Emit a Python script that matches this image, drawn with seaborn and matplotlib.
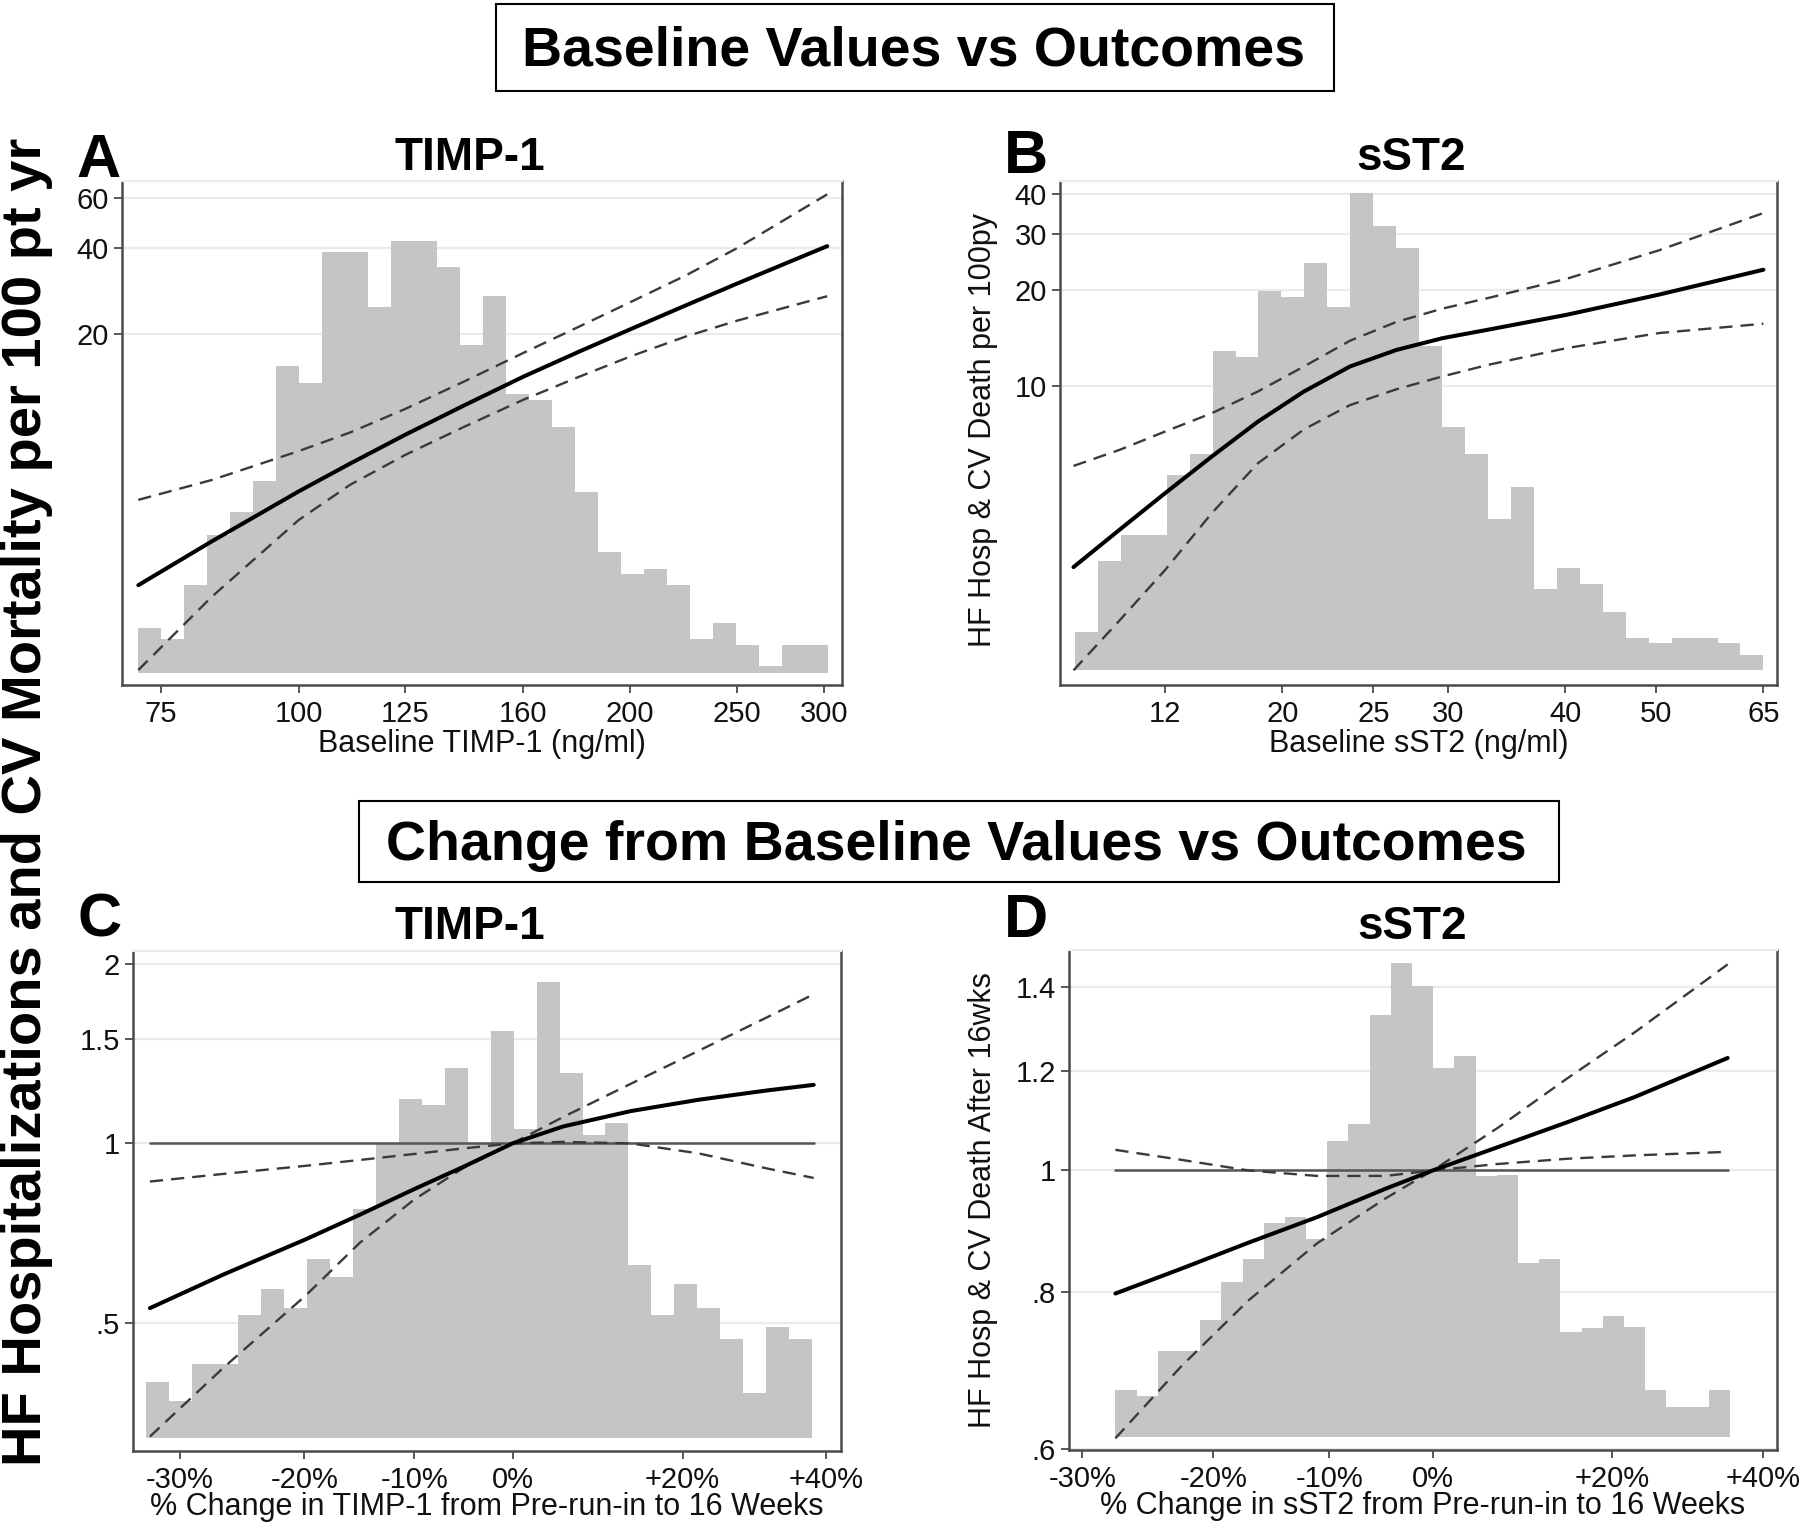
import numpy as np
import seaborn as sns
import matplotlib
matplotlib.use("Agg")
import matplotlib.pyplot as plt
from matplotlib.patches import Rectangle
from matplotlib.ticker import NullLocator, FixedLocator, FixedFormatter
from matplotlib.transforms import blended_transform_factory

# ---------------------------------------------------------------- data
# Panel A : baseline TIMP-1 (ng/ml) vs rate per 100 pt-yr
A_X = [71.5, 83.4, 100, 111.3, 125, 141.6, 160, 179.9, 200, 224.4, 250, 302]
A_FIT = [2.59, 3.70, 5.55, 6.95, 8.80, 11.2, 14.1, 17.3, 20.7, 25.1, 30.0, 40.7]
A_CI_UP = [5.18, 6.09, 7.70, 8.95, 10.85, 13.6, 17.1, 21.2, 25.8, 32.0, 40.0, 62.0]
A_CI_LO = [1.30, 2.36, 4.40, 5.85, 7.47, 9.41, 11.69, 14.1, 16.6, 19.5, 22.2, 27.1]
A_BIN_RANGE = (71.5, 302.6)
A_HIST = [10.8, 8.0, 21.0, 33.0, 38.5, 46.0, 73.7, 69.7, 101.2, 101.2,
          88.0, 103.8, 103.8, 97.5, 78.8, 90.6, 67.0, 65.5, 59.0, 43.3,
          29.0, 23.8, 25.0, 21.0, 8.0, 11.8, 6.5, 1.5, 6.5, 6.5]
A_XTICKS = [75, 100, 125, 160, 200, 250, 300]
A_XTICKLABELS = ["75", "100", "125", "160", "200", "250", "300"]
A_YTICKS = [20, 40, 60]
A_YTICKLABELS = ["20", "40", "60"]

# Panel B : baseline sST2 (ng/ml)
B_X = [11.99, 13.42, 15.0, 16.82, 18.84, 21.09, 23.61, 26.44, 29.6, 33.14, 40.16, 50.3, 65.0]
B_FIT = [2.73, 3.57, 4.64, 6.04, 7.77, 9.65, 11.55, 13.0, 14.15, 15.05, 16.75, 19.35, 23.15]
B_CI_UP = [5.65, 6.34, 7.23, 8.25, 9.65, 11.55, 13.9, 15.9, 17.5, 18.9, 21.7, 26.6, 34.8]
B_CI_LO = [1.30, 1.86, 2.67, 4.02, 5.76, 7.35, 8.75, 9.80, 10.75, 11.69, 13.18, 14.68, 15.70]
B_BIN_RANGE = (12.03, 65.0)
B_HIST = [9.2, 26.3, 32.5, 32.5, 46.8, 52.0, 76.8, 75.3, 91.2, 89.7,
          97.7, 87.3, 114.5, 106.8, 101.5, 78.0, 58.5, 52.0, 36.3, 44.0,
          19.5, 24.7, 20.8, 14.0, 7.7, 6.5, 7.7, 7.7, 6.5, 3.8]
B_XTICKS = [15, 20, 25, 30, 40, 50, 65]
B_XTICKLABELS = ["12", "20", "25", "30", "40", "50", "65"]
B_YTICKS = [10, 20, 30, 40]
B_YTICKLABELS = ["10", "20", "30", "40"]

# Panel C : % change in TIMP-1 vs relative risk
C_PCT = [-32.2, -26.6, -19.9, -15.1, -10.0, -5.1, 0, 5.6, 13.5, 22.1, 31.3, 38.1]
C_FIT = [0.529, 0.603, 0.690, 0.759, 0.838, 0.914, 1.0, 1.068, 1.133, 1.184, 1.227, 1.254]
C_CI_A = [0.322, 0.421, 0.555, 0.681, 0.805, 0.910, 1.0, 1.108, 1.259, 1.431, 1.627, 1.780]
C_CI_B = [0.863, 0.889, 0.917, 0.938, 0.960, 0.981, 1.0, 1.006, 1.0, 0.962, 0.908, 0.875]
C_BIN_RANGE_PCT = (-32.5, 37.9)
C_HIST = [13.3, 8.8, 17.5, 17.5, 29.0, 35.0, 30.5, 42.1, 37.8, 53.8,
          69.3, 79.8, 78.3, 87.0, 69.3, 95.8, 72.6, 107.3, 85.8, 71.3,
          74.0, 40.6, 29.0, 36.3, 30.6, 23.3, 10.6, 26.1, 23.3]
C_YTICKS = [0.5, 1, 1.5, 2]
C_YTICKLABELS = [".5", "1", "1.5", "2"]

# Panel D : % change in sST2 vs relative risk
D_PCT = [-27.6, -22.6, -17.1, -11.1, -4.7, 0, 6.9, 14.6, 22.8, 35.0]
D_FIT = [0.798, 0.835, 0.876, 0.918, 0.967, 1.0, 1.044, 1.092, 1.144, 1.229]
D_CI_A = [0.612, 0.698, 0.788, 0.875, 0.950, 1.0, 1.082, 1.183, 1.288, 1.459]
D_CI_B = [1.0385, 1.0197, 1.0, 0.990, 0.990, 1.0, 1.012, 1.0216, 1.028, 1.0347]
D_BIN_RANGE_PCT = (-27.6, 35.3)
D_HIST = [11.0, 9.7, 20.3, 20.3, 27.5, 36.5, 42.0, 50.3, 51.7, 46.5,
          69.5, 73.5, 99.3, 111.5, 106.0, 86.8, 89.7, 61.5, 61.7, 41.0,
          42.0, 24.7, 25.7, 28.5, 26.0, 11.0, 7.0, 7.0, 11.0]
D_YTICKS = [0.6, 0.8, 1, 1.2, 1.4]
D_YTICKLABELS = [".6", ".8", "1", "1.2", "1.4"]

PCT_TICKS = [-30, -20, -10, 0, 20, 40]
PCT_TICKLABELS = ["-30%", "-20%", "-10%", "0%", "+20%", "+40%"]

# ---------------------------------------------------------------- style
sns.set_theme(style="white")
plt.rcParams["font.family"] = ["Liberation Sans", "DejaVu Sans"]

HIST_C = "#c5c5c5"
GRID_C = "#ebebeb"
SPINE_C = "#4a4a4a"
DASH_C = "#3a3a3a"
TXT_C = "#111111"
DASH = (0, (5.6, 3.4))

W, H = 1800, 1528
fig = plt.figure(figsize=(W / 100, H / 100), dpi=100)
fig.patch.set_facecolor("white")


def fx(x):
    return x / W


def fy(y):
    return 1 - y / H


def rect(l, t, r, b):
    return [l / W, 1 - b / H, (r - l) / W, (b - t) / H]


def ratio(p):
    return 1 + np.asarray(p, dtype=float) / 100.0


def panel(box, x, fit, ci1, ci2, bin_range, nbins, heights, xlim, ylim, hylim,
          xt, xtl, yt, ytl, xlabel, xlabel_y, ylabel=None, ylabel_xy=None, ref=False):
    ax = fig.add_axes(box)
    ax.set_xscale("log")
    ax.set_yscale("log")
    axh = ax.twinx()
    ax.set_zorder(2)
    axh.set_zorder(1)
    ax.patch.set_visible(False)

    edges = np.geomspace(bin_range[0], bin_range[1], nbins + 1)
    centers = np.sqrt(edges[:-1] * edges[1:])
    sns.histplot(x=list(centers), weights=list(heights), bins=list(np.log10(edges)),
                 element="step", fill=True, color=HIST_C, alpha=1, linewidth=0, ax=axh)
    axh.set_ylim(hylim)
    axh.set_yticks([])
    axh.set_ylabel("")
    axh.set_xlabel("")
    for s in axh.spines.values():
        s.set_visible(False)

    # gridlines behind the histogram
    tr = blended_transform_factory(axh.transAxes, ax.transData)
    for v in yt:
        axh.plot([0, 1], [v, v], transform=tr, color=GRID_C, lw=1.6, zorder=0.5,
                 scalex=False, scaley=False)

    if ref:
        sns.lineplot(x=[x[0], x[-1]], y=[1, 1], ax=ax, color="#555555", linewidth=1.8,
                     estimator=None, sort=False)
    sns.lineplot(x=x, y=ci1, ax=ax, color=DASH_C, linewidth=1.7, linestyle=DASH,
                 estimator=None, sort=False)
    sns.lineplot(x=x, y=ci2, ax=ax, color=DASH_C, linewidth=1.7, linestyle=DASH,
                 estimator=None, sort=False)
    sns.lineplot(x=x, y=fit, ax=ax, color="black", linewidth=2.9,
                 estimator=None, sort=False)

    ax.set_xlim(xlim)
    ax.set_ylim(ylim)
    ax.xaxis.set_major_locator(FixedLocator(xt))
    ax.xaxis.set_major_formatter(FixedFormatter(xtl))
    ax.xaxis.set_minor_locator(NullLocator())
    ax.yaxis.set_major_locator(FixedLocator(yt))
    ax.yaxis.set_major_formatter(FixedFormatter(ytl))
    ax.yaxis.set_minor_locator(NullLocator())
    ax.tick_params(axis="both", which="major", direction="out", length=5.5, width=1.3,
                   color=SPINE_C, labelsize=21, labelcolor=TXT_C)
    ax.tick_params(axis="x", pad=5.5, bottom=True, top=False)
    ax.tick_params(axis="y", pad=4, left=True, right=False)
    for side in ["left", "bottom", "right"]:
        ax.spines[side].set_color(SPINE_C)
        ax.spines[side].set_linewidth(1.8)
        ax.spines[side].set_visible(True)
    ax.spines["top"].set_color(GRID_C)
    ax.spines["top"].set_linewidth(1.6)
    ax.spines["top"].set_visible(True)

    ax.set_xlabel(xlabel, fontsize=22, color=TXT_C)
    bpx = box[1] * H
    hpx = box[3] * H
    ax.xaxis.set_label_coords(0.5, ((H - xlabel_y) - bpx) / hpx)
    ax.xaxis.label.set_va("baseline")
    if ylabel:
        ax.set_ylabel(ylabel, fontsize=22, color=TXT_C)
        lpx = box[0] * W
        wpx = box[2] * W
        ax.yaxis.set_label_coords((ylabel_xy[0] - lpx) / wpx, ((H - ylabel_xy[1]) - bpx) / hpx)
        ax.yaxis.label.set_va("center")
        ax.yaxis.label.set_ha("center")
    else:
        ax.set_ylabel("")
    return ax


# Panel A
panel(rect(122, 181, 842, 685), A_X, A_FIT, A_CI_UP, A_CI_LO, A_BIN_RANGE, 30, A_HIST,
      (69.1, 311.5), (1.151, 69.1), (-3.0, 118.2),
      A_XTICKS, A_XTICKLABELS, A_YTICKS, A_YTICKLABELS,
      "Baseline TIMP-1 (ng/ml)", 752)

# Panel B
panel(rect(1060, 181, 1777, 685), B_X, B_FIT, B_CI_UP, B_CI_LO, B_BIN_RANGE, 30, B_HIST,
      (11.6, 67.2), (1.17, 43.8), (-3.5, 117.5),
      B_XTICKS, B_XTICKLABELS, B_YTICKS, B_YTICKLABELS,
      "Baseline sST2 (ng/ml)", 752,
      ylabel="HF Hosp & CV Death per 100py", ylabel_xy=(983, 430))

# Panel C
panel(rect(133, 951, 841, 1451), ratio(C_PCT), C_FIT, C_CI_A, C_CI_B,
      tuple(ratio(C_BIN_RANGE_PCT)), 29, C_HIST,
      (0.6658, 1.422), (0.3045, 2.104), (-3.0, 114.5),
      ratio(PCT_TICKS), PCT_TICKLABELS, C_YTICKS, C_YTICKLABELS,
      "% Change in TIMP-1 from Pre-run-in to 16 Weeks", 1515, ref=True)

# Panel D
panel(rect(1069, 950, 1777, 1450), ratio(D_PCT), D_FIT, D_CI_A, D_CI_B,
      tuple(ratio(D_BIN_RANGE_PCT)), 29, D_HIST,
      (0.6906, 1.4195), (0.599, 1.498), (-3.0, 114.5),
      ratio(PCT_TICKS), PCT_TICKLABELS, D_YTICKS, D_YTICKLABELS,
      "% Change in sST2 from Pre-run-in to 16 Weeks", 1514,
      ylabel="HF Hosp & CV Death After 16wks", ylabel_xy=(983, 1200), ref=True)

# ---------------------------------------------------------------- figure texts
def ftext(x, y, s, size, **kw):
    fig.text(fx(x), fy(y), s, fontsize=size, color="black", **kw)


# section boxes
fig.add_artist(Rectangle((fx(496), fy(91)), (1334 - 496) / W, (91 - 4) / H,
                         transform=fig.transFigure, fill=False, ec="black", lw=1.5))
fig.add_artist(Rectangle((fx(359), fy(882)), (1559 - 359) / W, (882 - 801) / H,
                         transform=fig.transFigure, fill=False, ec="black", lw=1.5))
ftext(913, 66, "Baseline Values vs Outcomes", 40, ha="center", va="baseline", fontweight="bold")
ftext(956, 860, "Change from Baseline Values vs Outcomes", 40, ha="center", va="baseline",
      fontweight="bold")

# panel letters and titles
ftext(99, 177, "A", 44, ha="center", va="baseline", fontweight="bold")
ftext(1026, 173, "B", 44, ha="center", va="baseline", fontweight="bold")
ftext(100, 937, "C", 44, ha="center", va="baseline", fontweight="bold")
ftext(1026, 937, "D", 44, ha="center", va="baseline", fontweight="bold")
ftext(470, 170, "TIMP-1", 33, ha="center", va="baseline", fontweight="bold")
ftext(1411, 170, "sST2", 33, ha="center", va="baseline", fontweight="bold")
ftext(470, 939, "TIMP-1", 33, ha="center", va="baseline", fontweight="bold")
ftext(1412, 939, "sST2", 33, ha="center", va="baseline", fontweight="bold")

# overall y label
ftext(27, 802, "HF Hospitalizations and CV Mortality per 100 pt yr", 40.4,
      ha="center", va="center", rotation=90, fontweight="bold")

fig.savefig("out.png", dpi=100, facecolor="white")
